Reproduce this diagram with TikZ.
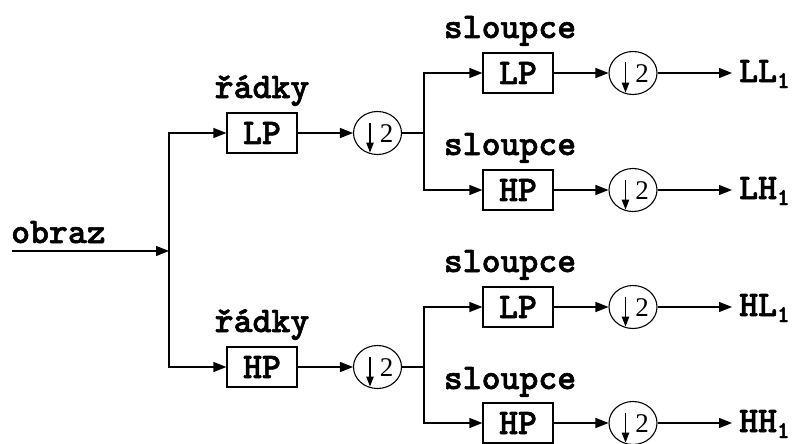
\documentclass[tikz,border=0pt]{standalone}
\usepackage{fontspec}
\usetikzlibrary{arrows.meta,shapes.geometric,calc}
\newfontfamily\tms{Liberation Serif}
\newfontfamily\lmb{lmmonolt10-bold.otf}[FakeBold=1.6]
\newcommand{\cf}{\lmb\fontsize{36}{36}\selectfont}
\newcommand{\subone}{\raisebox{-6pt}{\fontsize{24}{24}\selectfont 1}}
\begin{document}
\begin{tikzpicture}[x=1pt,y=-1pt,
  ln/.style={line width=1.3pt},
  arr/.style={ln,-{Triangle[length=13pt,width=10pt]}},
  darr/.style={line width=1.1pt,-{Triangle[length=10pt,width=7.5pt]}},
  fbox/.style={draw,line width=1.3pt,minimum width=70pt,minimum height=40pt,inner sep=0pt,font=\cf},
  dn/.style={ellipse,draw,line width=1.1pt,minimum width=48pt,minimum height=43pt,inner sep=0pt},
  two/.style={anchor=base,inner sep=0pt,font=\tms\fontsize{27}{27}\selectfont},
  lab/.style={anchor=base,inner sep=0pt,font=\cf},
  outl/.style={anchor=west,inner sep=0pt,inner xsep=7pt,text height=18pt,text depth=0pt,font=\cf}
]
\useasboundingbox (0,0) rectangle (803,444);
% input
\node[anchor=base west,inner sep=0pt,font=\cf] (obraz) at (11,243) {obraz};
\coordinate (in) at (12,251);
\coordinate (j0) at (169,251);
\draw[arr] (in) -- (j0);
% row filters
\node[fbox] (r1) at (262,133) {LP};
\node[fbox] (r2) at (262,367) {HP};
\node[lab] (t1) at (262,98) {řádky};
\node[lab] (t2) at (262,332) {řádky};
\draw[arr] (j0) |- (r1.west);
\draw[arr] (j0) |- (r2.west);
% downsamplers after rows
\node[dn] (d1) at (377.5,133) {};
\node[dn] (d2) at (377.5,367) {};
\draw[arr] (r1.east) -- (d1.west);
\draw[arr] (r2.east) -- (d2.west);
\coordinate (s1) at (424,133);
\coordinate (s2) at (424,367);
\draw[line width=2.6pt] (d1.east) -- (s1);
\draw[line width=2.6pt] (d2.east) -- (s2);
% column filters
\node[fbox] (c1) at (518,73) {LP};
\node[fbox] (c2) at (518,190) {HP};
\node[fbox] (c3) at (518,307) {LP};
\node[fbox] (c4) at (518,423) {HP};
\node[lab] (u1) at (510,38) {sloupce};
\node[lab] (u2) at (510,155) {sloupce};
\node[lab] (u3) at (510,272) {sloupce};
\node[lab] (u4) at (510,389) {sloupce};
\draw[arr] (s1) |- (c1.west);
\draw[arr] (s1) |- (c2.west);
\draw[arr] (s2) |- (c3.west);
\draw[arr] (s2) |- (c4.west);
% downsamplers after columns
\node[dn] (e1) at (633,73) {};
\node[dn] (e2) at (633,190) {};
\node[dn] (e3) at (633,307) {};
\node[dn] (e4) at (633,423) {};
\draw[arr] (c1.east) -- (e1.west);
\draw[arr] (c2.east) -- (e2.west);
\draw[arr] (c3.east) -- (e3.west);
\draw[arr] (c4.east) -- (e4.west);
% "down 2" symbols inside the circles
\foreach \n in {d1,d2,e1,e2,e3,e4}{
  \node[two] (\n t) at ($(\n.center)+(9,9.5)$) {2};
  \draw[darr] ($(\n.center)+(-7.5,-10.5)$) -- ($(\n.center)+(-7.5,19.5)$);
}
% outputs
\node[outl] (o1) at (732,73) {LL\subone};
\node[outl] (o2) at (732,190) {LH\subone};
\node[outl] (o3) at (732,307) {HL\subone};
\node[outl] (o4) at (732,423) {HH\subone};
\draw[arr] (e1.east) -- (o1.west);
\draw[arr] (e2.east) -- (o2.west);
\draw[arr] (e3.east) -- (o3.west);
\draw[arr] (e4.east) -- (o4.west);
\end{tikzpicture}
\end{document}
